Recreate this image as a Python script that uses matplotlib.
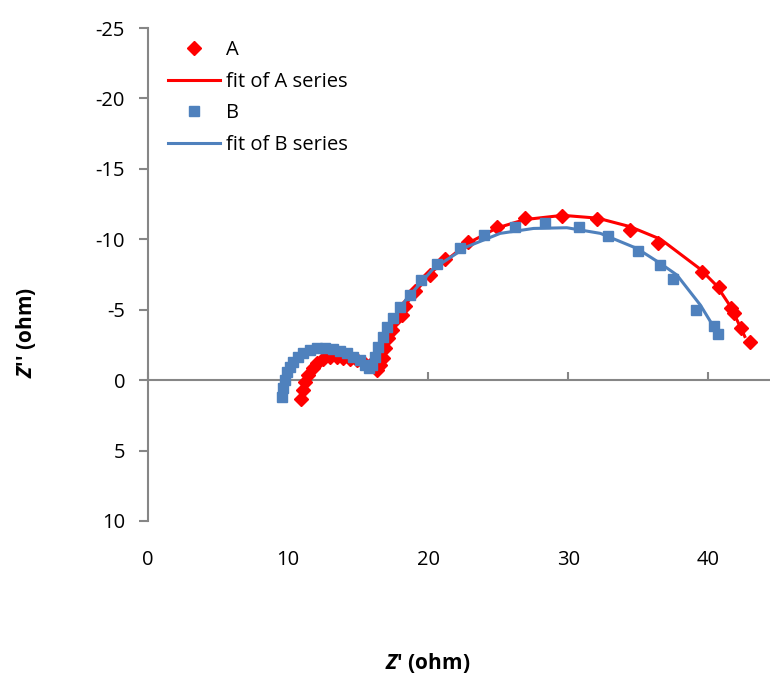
import matplotlib.pyplot as plt
import matplotlib as mpl

mpl.rcParams['font.family'] = ['Open Sans', 'DejaVu Sans']
mpl.rcParams['axes.unicode_minus'] = False
mpl.rcParams['mathtext.fontset'] = 'custom'
mpl.rcParams['mathtext.rm'] = 'Open Sans'
mpl.rcParams['mathtext.bf'] = 'Open Sans:bold'
mpl.rcParams['mathtext.bfit'] = 'Open Sans:italic:bold'

# series A (measured)
a_x = [10.93, 11.05, 11.21, 11.45, 11.76, 12.09, 12.52, 13.0, 13.48, 13.95, 14.43,
       14.91, 15.38, 15.86, 16.34, 16.57, 16.76, 16.93, 17.16, 17.41, 17.64, 18.12,
       18.36, 19.07, 20.14, 21.2, 22.86, 24.93, 26.93, 29.57, 32.07, 34.43, 36.38,
       39.55, 40.74, 41.64, 41.86, 42.31, 42.95]
a_y = [1.35, 0.71, 0.12, -0.36, -0.83, -1.19, -1.47, -1.61, -1.61, -1.54, -1.47,
       -1.42, -1.30, -1.07, -0.71, -1.07, -1.54, -2.25, -2.96, -3.55, -4.26, -4.6,
       -5.26, -6.32, -7.46, -8.6, -9.8, -10.87, -11.5, -11.65, -11.43, -10.65, -9.71,
       -7.69, -6.63, -5.13, -4.74, -3.72, -2.68]

# fit of A
fa_x = [10.9, 11.05, 11.3, 11.7, 12.2, 12.8, 13.5, 14.2, 14.9, 15.5, 16.0, 16.35,
        16.7, 17.0, 17.5, 18.2, 19.1, 20.4, 22.8, 24.9, 26.9, 29.6, 32.1, 34.4,
        36.6, 39.4, 40.6, 41.6, 42.6]
fa_y = [1.3, 0.6, -0.2, -0.8, -1.3, -1.55, -1.6, -1.5, -1.4, -1.2, -0.95, -0.8,
        -1.3, -2.2, -3.7, -5.1, -6.3, -7.8, -9.7, -10.8, -11.4, -11.7, -11.5, -10.9,
        -10.0, -7.9, -6.7, -5.2, -3.1]

# series B (measured)
b_x = [9.55, 9.66, 9.79, 9.95, 10.14, 10.38, 10.74, 11.09, 11.57, 12.05, 12.64,
       13.24, 13.71, 14.19, 14.66, 15.14, 15.5, 15.74, 15.98, 16.21, 16.45, 16.81,
       17.05, 17.52, 18.0, 18.71, 19.48, 20.66, 22.24, 24.02, 26.21, 28.36, 30.74,
       32.81, 34.95, 36.52, 37.48, 39.14, 40.43, 40.66]
b_y = [1.19, 0.59, 0.0, -0.59, -0.94, -1.30, -1.65, -1.90, -2.13, -2.25, -2.25,
       -2.20, -2.08, -1.90, -1.65, -1.42, -1.07, -0.83, -1.07, -1.65, -2.37, -3.08,
       -3.79, -4.38, -5.21, -6.04, -7.10, -8.22, -9.35, -10.30, -10.89, -11.13, -10.89,
       -10.23, -9.18, -8.15, -7.15, -4.97, -3.84, -3.25]

# fit of B
fb_x = [9.55, 9.8, 10.2, 10.8, 11.6, 12.6, 13.7, 14.7, 15.5, 15.8, 16.2, 16.8,
        17.5, 18.4, 20.38, 22.76, 25.14, 27.52, 29.9, 32.29, 34.9, 36.57, 37.76,
        39.43, 40.45]
fb_y = [1.2, 0.0, -1.0, -1.7, -2.15, -2.25, -2.1, -1.65, -1.1, -0.85, -1.6, -3.0,
        -4.3, -5.7, -7.93, -9.47, -10.42, -10.77, -10.82, -10.42, -9.35, -8.29, -7.46,
        -5.33, -3.67]

x_ticks = [0, 10, 20, 30, 40]
y_ticks = [-25, -20, -15, -10, -5, 0, 5, 10]

red = '#FF0000'
blue = '#4F81BD'
gray = '#868686'

fig = plt.figure(figsize=(7.7, 6.77), dpi=100)
ax = fig.add_axes([148 / 770, 1 - 521 / 677, 1 - 148 / 770, (521 - 28) / 677])

ax.plot(a_x, a_y, 'D', color=red, ms=7, mec=red, label='A', zorder=3)
ax.plot(fa_x, fa_y, '-', color=red, lw=2.2, label='fit of A series', zorder=3)
ax.plot(b_x, b_y, 's', color=blue, ms=6.5, mec=blue, label='B', zorder=4)
ax.plot(fb_x, fb_y, '-', color=blue, lw=2.2, label='fit of B series', zorder=4)

ax.set_xlim(0, 44.4)
ax.set_ylim(10, -25)
ax.set_xticks(x_ticks)
ax.set_yticks(y_ticks)

for s in ['top', 'right']:
    ax.spines[s].set_visible(False)
ax.spines['left'].set_color(gray)
ax.spines['left'].set_linewidth(1.5)
ax.spines['bottom'].set_position(('data', 0))
ax.spines['bottom'].set_color(gray)
ax.spines['bottom'].set_linewidth(1.5)

ax.tick_params(axis='y', direction='out', length=6.5, width=1.5, color=gray,
               labelsize=14.5, pad=10)
ax.tick_params(axis='x', direction='in', length=6, width=1.5, color=gray,
               labelbottom=False)

# x labels sit below the plot, not on the zero line
sec = ax.secondary_xaxis('bottom')
sec.set_xticks(x_ticks)
sec.spines['bottom'].set_visible(False)
sec.tick_params(axis='x', length=0, labelsize=14.5, pad=21)

fig.text(428 / 770, 1 - 663 / 677, r"$\mathbfit{Z}$' (ohm)", ha='center', va='center',
         fontsize=15, fontweight='bold')
fig.text(26 / 770, 1 - 333 / 677, r"$\mathbfit{Z}$'' (ohm)", ha='center', va='center',
         fontsize=15, fontweight='bold', rotation=90)

ax.legend(loc='upper left', bbox_to_anchor=(168 / 770, 1 - 40 / 677),
          bbox_transform=fig.transFigure, frameon=False, fontsize=14.5,
          handlelength=2.6, handletextpad=0.3, labelspacing=0.58,
          borderpad=0, borderaxespad=0)

fig.savefig('out.png', dpi=100)
